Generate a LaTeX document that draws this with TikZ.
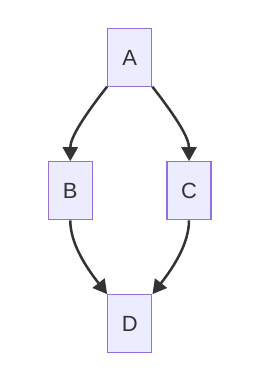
\documentclass[tikz,border=0pt]{standalone}
\usepackage{fontspec}
\setmainfont{Liberation Sans}
\usepackage{tikz}
\usetikzlibrary{arrows.meta}

\definecolor{nodefill}{HTML}{ECECFF}
\definecolor{nodeline}{HTML}{9370DB}
\definecolor{edgeline}{HTML}{333333}

\begin{document}
\begin{tikzpicture}[
  x=1pt, y=1pt,
  box/.style={draw=nodeline, fill=nodefill, line width=1.3pt,
              minimum width=44pt, minimum height=58pt, inner sep=0pt,
              font=\fontsize{22}{26}\selectfont, text=edgeline},
  ar/.style={-{Triangle[length=14pt,width=15pt]}, draw=edgeline,
             line width=2.5pt}
]
\useasboundingbox (0,0) rectangle (270,378);

\node[box] (a) at (129.7,320.3) {A};
\node[box] (b) at (70.3,187.2) {B};
\node[box] (c) at (189.0,187.2) {C};
\node[box] (d) at (129.8,54.2) {D};

\draw[ar] (a) to[out=-128, in=90, out looseness=1.3, in looseness=0.7] (b);
\draw[ar] (a) to[out=-52, in=90, out looseness=1.3, in looseness=0.7] (c);
\draw[ar] (b) to[out=-90, in=128, out looseness=0.7, in looseness=1.1] (d.north west);
\draw[ar] (c) to[out=-90, in=52, out looseness=0.7, in looseness=1.1] (d.north east);
\end{tikzpicture}
\end{document}
